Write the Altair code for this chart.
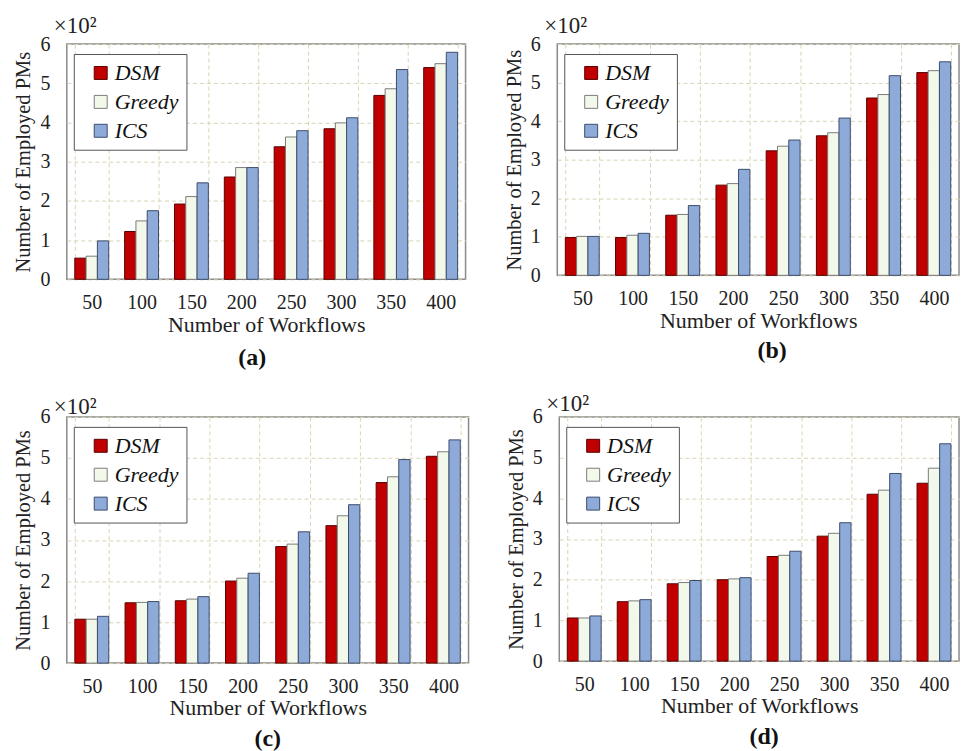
import altair as alt
import pandas as pd

workflows = ["50", "100", "150", "200", "250", "300", "350", "400"]
algorithms = ["DSM", "Greedy", "ICS"]

# values in units of 10^2
a_dsm = [0.54, 1.22, 1.92, 2.61, 3.38, 3.84, 4.69, 5.40]
a_greedy = [0.59, 1.49, 2.11, 2.85, 3.63, 3.99, 4.86, 5.50]
a_ics = [0.98, 1.75, 2.46, 2.85, 3.79, 4.12, 5.35, 5.79]

b_dsm = [0.98, 0.98, 1.56, 2.34, 3.23, 3.62, 4.60, 5.26]
b_greedy = [1.01, 1.04, 1.58, 2.38, 3.35, 3.70, 4.69, 5.31]
b_ics = [1.01, 1.09, 1.81, 2.75, 3.51, 4.08, 5.18, 5.54]

c_dsm = [1.07, 1.47, 1.52, 2.00, 2.84, 3.35, 4.40, 5.04]
c_greedy = [1.07, 1.48, 1.56, 2.07, 2.90, 3.59, 4.54, 5.15]
c_ics = [1.14, 1.50, 1.62, 2.19, 3.20, 3.86, 4.96, 5.44]

d_dsm = [1.06, 1.46, 1.90, 2.00, 2.57, 3.07, 4.10, 4.37]
d_greedy = [1.06, 1.48, 1.93, 2.02, 2.60, 3.14, 4.20, 4.74]
d_ics = [1.11, 1.51, 1.98, 2.05, 2.70, 3.40, 4.61, 5.34]

captions = ["(a)", "(b)", "(c)", "(d)"]
x_title = "Number of Workflows"
y_title = "Number of Employed PMs"
multiplier = "×10²"

fills = ["#c00000", "#f3f9ea", "#8eaad9"]
strokes = ["#5a0000", "#7a7a7a", "#3c4c6c"]

SERIF = "Liberation Serif"
ITALIC_SERIF = "Times New Roman, Liberation Serif, serif"


def panel(dsm, greedy, ics, caption, w, h, cap_dx, cap_off, note_y):
    df = pd.DataFrame({
        "Workflows": workflows * 3,
        "Algorithm": ["DSM"] * 8 + ["Greedy"] * 8 + ["ICS"] * 8,
        "PMs": dsm + greedy + ics,
    })
    leg = alt.Legend(title=None, orient="none", legendX=7, legendY=10)
    bars = alt.Chart(df).mark_bar(strokeWidth=1, opacity=1).encode(
        x=alt.X("Workflows:N", sort=workflows,
                scale=alt.Scale(paddingInner=0.32, paddingOuter=0.16),
                axis=alt.Axis(title=x_title, labelAngle=0, tickBand="extent",
                              ticks=False, domain=False, grid=True,
                              labelFontSize=20, titleFontSize=22,
                              labelPadding=13, titlePadding=2)),
        xOffset=alt.XOffset("Algorithm:N", sort=algorithms,
                            scale=alt.Scale(paddingInner=0, paddingOuter=0)),
        y=alt.Y("PMs:Q", scale=alt.Scale(domain=[0, 6], nice=False),
                axis=alt.Axis(title=y_title, values=[0, 1, 2, 3, 4, 5, 6],
                              ticks=False, domain=False, grid=True,
                              labelFontSize=20, titleFontSize=20.5,
                              labelPadding=17, titlePadding=6)),
        fill=alt.Fill("Algorithm:N", sort=algorithms,
                      scale=alt.Scale(domain=algorithms, range=fills), legend=leg),
        stroke=alt.Stroke("Algorithm:N", sort=algorithms,
                          scale=alt.Scale(domain=algorithms, range=strokes), legend=leg),
    )
    note = alt.Chart(pd.DataFrame({"t": [multiplier]})).mark_text(
        align="left", baseline="middle", font=SERIF, fontSize=23, color="#222"
    ).encode(x=alt.value(-13), y=alt.value(note_y), text="t:N")
    return alt.layer(bars, note).properties(
        width=w, height=h,
        title=alt.TitleParams(caption, orient="bottom", anchor="middle",
                              font=SERIF, fontSize=24, fontWeight="bold",
                              color="#111", offset=cap_off, dx=cap_dx),
    )


pa = panel(a_dsm, a_greedy, a_ics, captions[0], 400, 236, -14, 11, -18)
pb = panel(b_dsm, b_greedy, b_ics, captions[1], 403, 232, 14, 8, -18)
pc = panel(c_dsm, c_greedy, c_ics, captions[2], 403, 247, 0, 8, -10)
pd_ = panel(d_dsm, d_greedy, d_ics, captions[3], 401, 245, 5, 8, -13)

row1 = alt.hconcat(pa, pb, spacing=37).resolve_scale(
    fill="independent", stroke="independent")
row2 = alt.hconcat(pc, pd_, spacing=36).resolve_scale(
    fill="independent", stroke="independent")

chart = alt.vconcat(row1, row2, spacing=21).resolve_scale(
    fill="independent", stroke="independent"
).configure_view(
    stroke="#8a8a8a", strokeWidth=1.5
).configure_axis(
    labelFont=SERIF, labelColor="#222",
    titleFont=SERIF, titleFontWeight="normal", titleColor="#222",
    gridColor="#d9d4b4", gridDash=[4, 3], gridWidth=1,
).configure_legend(
    symbolType="square", symbolSize=169, symbolStrokeWidth=1,
    symbolOffset=8, labelOffset=3, padding=8, rowPadding=7,
    labelFont=ITALIC_SERIF, labelFontStyle="italic", labelFontSize=22,
    labelColor="#111", strokeColor="#555", fillColor="white",
)

chart.save("out.html", embed_options={"renderer": "svg", "actions": False})
